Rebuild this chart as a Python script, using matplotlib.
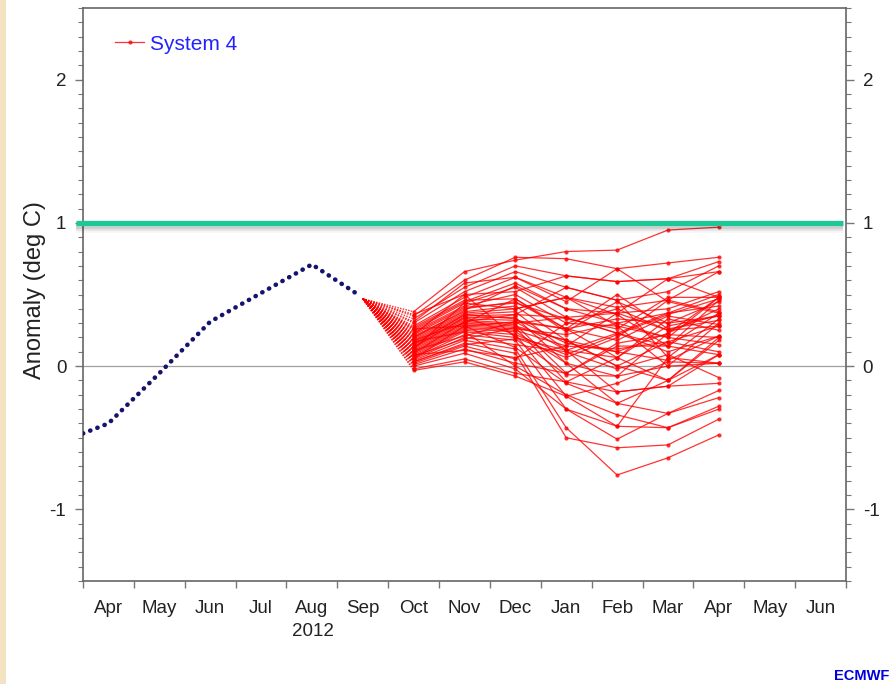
import numpy as np
import matplotlib
matplotlib.use('Agg')
import matplotlib.pyplot as plt
from matplotlib.patches import Rectangle
from matplotlib.lines import Line2D

plt.rcParams['font.family'] = ['Liberation Sans', 'DejaVu Sans']

# month axis: 0 = 1 Apr 2012, 15 = end of Jun 2013
month_labels = ['Apr', 'May', 'Jun', 'Jul', 'Aug', 'Sep', 'Oct', 'Nov',
                'Dec', 'Jan', 'Feb', 'Mar', 'Apr', 'May', 'Jun']

# observed anomaly (deg C)
obs_x = [0.0, 0.5, 1.5, 2.5, 3.5, 4.5, 5.45]
obs_y = [-0.47, -0.40, -0.05, 0.31, 0.51, 0.71, 0.49]

# System 4 ensemble: start value, then monthly means Oct..Apr
fc_start_x = 5.5
fc_start_y = 0.47
fc_x = [6.5, 7.5, 8.5, 9.5, 10.5, 11.5, 12.5]
members = [
    [0.38, 0.66, 0.74, 0.80, 0.81, 0.95, 0.97],
    [0.35, 0.60, 0.76, 0.75, 0.68, 0.72, 0.76],
    [0.33, 0.55, 0.70, 0.63, 0.59, 0.61, 0.73],
    [0.30, 0.52, 0.66, 0.55, 0.46, 0.52, 0.70],
    [0.28, 0.48, 0.62, 0.48, 0.41, 0.46, 0.66],
    [0.26, 0.45, 0.58, 0.40, 0.37, 0.40, 0.52],
    [0.25, 0.44, 0.55, 0.34, 0.23, 0.37, 0.50],
    [0.24, 0.42, 0.50, 0.30, 0.28, 0.20, 0.48],
    [0.22, 0.40, 0.45, 0.26, 0.33, 0.30, 0.45],
    [0.21, 0.38, 0.42, 0.18, 0.10, 0.23, 0.40],
    [0.20, 0.37, 0.40, 0.48, 0.36, 0.14, 0.37],
    [0.19, 0.36, 0.38, 0.11, 0.06, 0.28, 0.35],
    [0.18, 0.35, 0.36, 0.55, 0.46, 0.06, 0.33],
    [0.17, 0.34, 0.34, 0.02, -0.07, 0.00, 0.30],
    [0.16, 0.33, 0.32, 0.26, 0.18, 0.35, 0.29],
    [0.15, 0.32, 0.30, 0.34, 0.23, 0.10, 0.21],
    [0.14, 0.31, 0.29, -0.05, 0.16, 0.22, 0.20],
    [0.13, 0.30, 0.28, 0.18, 0.00, -0.10, 0.18],
    [0.12, 0.29, 0.27, -0.11, -0.18, -0.14, 0.08],
    [0.11, 0.28, 0.26, 0.22, 0.30, 0.37, 0.42],
    [0.10, 0.27, 0.25, 0.14, 0.12, 0.17, 0.10],
    [0.09, 0.26, 0.24, 0.02, -0.26, -0.33, -0.17],
    [0.08, 0.25, 0.22, -0.21, -0.12, 0.03, 0.02],
    [0.07, 0.24, 0.20, 0.06, 0.20, 0.46, 0.38],
    [0.06, 0.22, 0.18, -0.30, -0.42, -0.43, -0.30],
    [0.05, 0.20, 0.15, 0.10, -0.02, 0.08, -0.08],
    [0.04, 0.18, 0.12, -0.43, -0.76, -0.64, -0.48],
    [0.03, 0.16, 0.09, -0.50, -0.57, -0.55, -0.37],
    [0.02, 0.14, 0.05, 0.30, 0.40, 0.25, 0.28],
    [0.01, 0.12, 0.02, -0.05, 0.14, 0.14, 0.46],
    [0.00, 0.09, -0.02, -0.30, -0.51, -0.33, -0.22],
    [-0.02, 0.05, -0.05, -0.11, 0.06, 0.33, 0.25],
    [-0.03, 0.03, -0.07, -0.21, -0.42, 0.06, 0.02],
    [0.36, 0.50, 0.52, 0.63, 0.59, 0.61, 0.48],
    [0.31, 0.58, 0.62, 0.45, 0.68, 0.45, 0.37],
    [0.27, 0.46, 0.47, 0.26, 0.50, 0.26, 0.32],
    [0.23, 0.41, 0.44, 0.33, 0.26, 0.48, 0.48],
    [0.20, 0.39, 0.56, 0.40, 0.30, 0.20, 0.15],
    [0.18, 0.30, 0.47, 0.24, 0.45, 0.30, 0.35],
    [0.15, 0.36, 0.33, 0.16, 0.10, 0.04, 0.21],
    [0.13, 0.34, 0.22, 0.08, 0.22, 0.36, 0.47],
    [0.11, 0.21, 0.31, 0.26, 0.06, -0.10, 0.08],
    [0.09, 0.31, 0.36, 0.34, 0.37, 0.25, 0.36],
    [0.07, 0.19, 0.27, 0.18, 0.00, 0.17, 0.28],
    [0.05, 0.28, 0.31, 0.11, 0.23, 0.14, 0.08],
    [0.03, 0.15, 0.19, -0.06, -0.07, 0.23, 0.48],
    [0.12, 0.44, 0.40, 0.48, 0.28, 0.00, 0.02],
    [0.22, 0.50, 0.20, 0.11, -0.18, -0.14, -0.12],
    [0.26, 0.28, 0.13, -0.12, -0.26, -0.10, 0.20],
    [0.17, 0.24, 0.00, -0.20, -0.34, -0.43, -0.28],
    [0.08, 0.11, 0.06, 0.14, 0.37, 0.61, 0.66],
]
threshold = 1.0

fig = plt.figure(figsize=(8.92, 6.84), dpi=100)
fig.patch.set_facecolor('white')
fig.patches.append(Rectangle((0, 0), 6 / 892, 1, transform=fig.transFigure,
                             facecolor='#f3e3c3', edgecolor='none'))
ax = fig.add_axes([83 / 892, 1 - 581 / 684, 763 / 892, 573 / 684])

ax.axhline(0, color='#a0a0a0', lw=0.9, zorder=1)

# ensemble plume
red = '#ff0000'
for m in members:
    ax.plot([fc_start_x, fc_x[0]], [fc_start_y, m[0]], color=red, lw=0.9,
            ls=(0, (1.2, 1.0)), alpha=0.85, zorder=3)
    ax.plot(fc_x, m, color=red, lw=0.9, alpha=0.8, marker='o',
            markersize=3, markeredgewidth=0, zorder=3)

# observations
ax.plot(obs_x, obs_y, color='#14146e', lw=3.3, ls=(0, (0.05, 1.63)),
        dash_capstyle='round', zorder=4)

# threshold line with a soft shadow
for k, a in enumerate([0.10, 0.07, 0.04]):
    ax.plot([-0.14, 14.94], [threshold - 0.025 - 0.012 * k] * 2, color='black',
            lw=4, alpha=a, solid_capstyle='butt', clip_on=False, zorder=5)
ax.plot([-0.14, 14.94], [threshold, threshold], color='#1ec896', lw=3.8,
        solid_capstyle='butt', clip_on=False, zorder=6)

ax.set_xlim(0, 15)
ax.set_ylim(-1.5, 2.5)

ax.set_xticks(np.arange(0, 16))
ax.set_xticklabels([])
ax.set_xticks(np.arange(15) + 0.5, minor=True)
ax.set_xticklabels(month_labels, minor=True, fontsize=13.5, color='#222222')
ax.tick_params(axis='x', which='major', length=5, width=1, color='#777777',
               direction='out')
ax.tick_params(axis='x', which='minor', length=0, pad=14)

ax.set_yticks([-1, 0, 1, 2])
ax.set_yticklabels(['-1', '0', '1', '2'])
ax.set_yticks(np.arange(-1.5, 2.51, 0.1), minor=True)
ax.tick_params(axis='y', which='both', left=True, right=True, labelleft=True,
               labelright=True, direction='out', color='#777777')
ax.tick_params(axis='y', which='major', length=6, width=1, labelsize=13.5,
               pad=6, labelcolor='#222222')
ax.tick_params(axis='y', which='minor', length=3.5, width=0.8)

for s in ax.spines.values():
    s.set_color('#666666')
    s.set_linewidth(1.2)

fig.text(313 / 892, 1 - 632 / 684, '2012', ha='center', va='center',
         fontsize=13.5, color='#222222')
fig.text(35 / 892, 1 - 290 / 684, 'Anomaly (deg C)', rotation=90,
         ha='center', va='center', fontsize=17, color='#222222')

handle = Line2D([], [], color=red, lw=0.9, alpha=0.8, marker='o',
                markersize=3, markeredgewidth=0)
ax.legend([handle], ['System 4'], loc='center left',
          bbox_to_anchor=((115 - 83) / 763, (581 - 44) / 573), frameon=False,
          borderpad=0, borderaxespad=0, handlelength=1.4, handletextpad=0.3,
          fontsize=15, labelcolor='#2222ff')

fig.text(889 / 892, 1 - 676 / 684, 'ECMWF', ha='right', va='center',
         fontsize=10.5, fontweight='bold', color='#0000dd')

fig.savefig('out.png', dpi=100)
